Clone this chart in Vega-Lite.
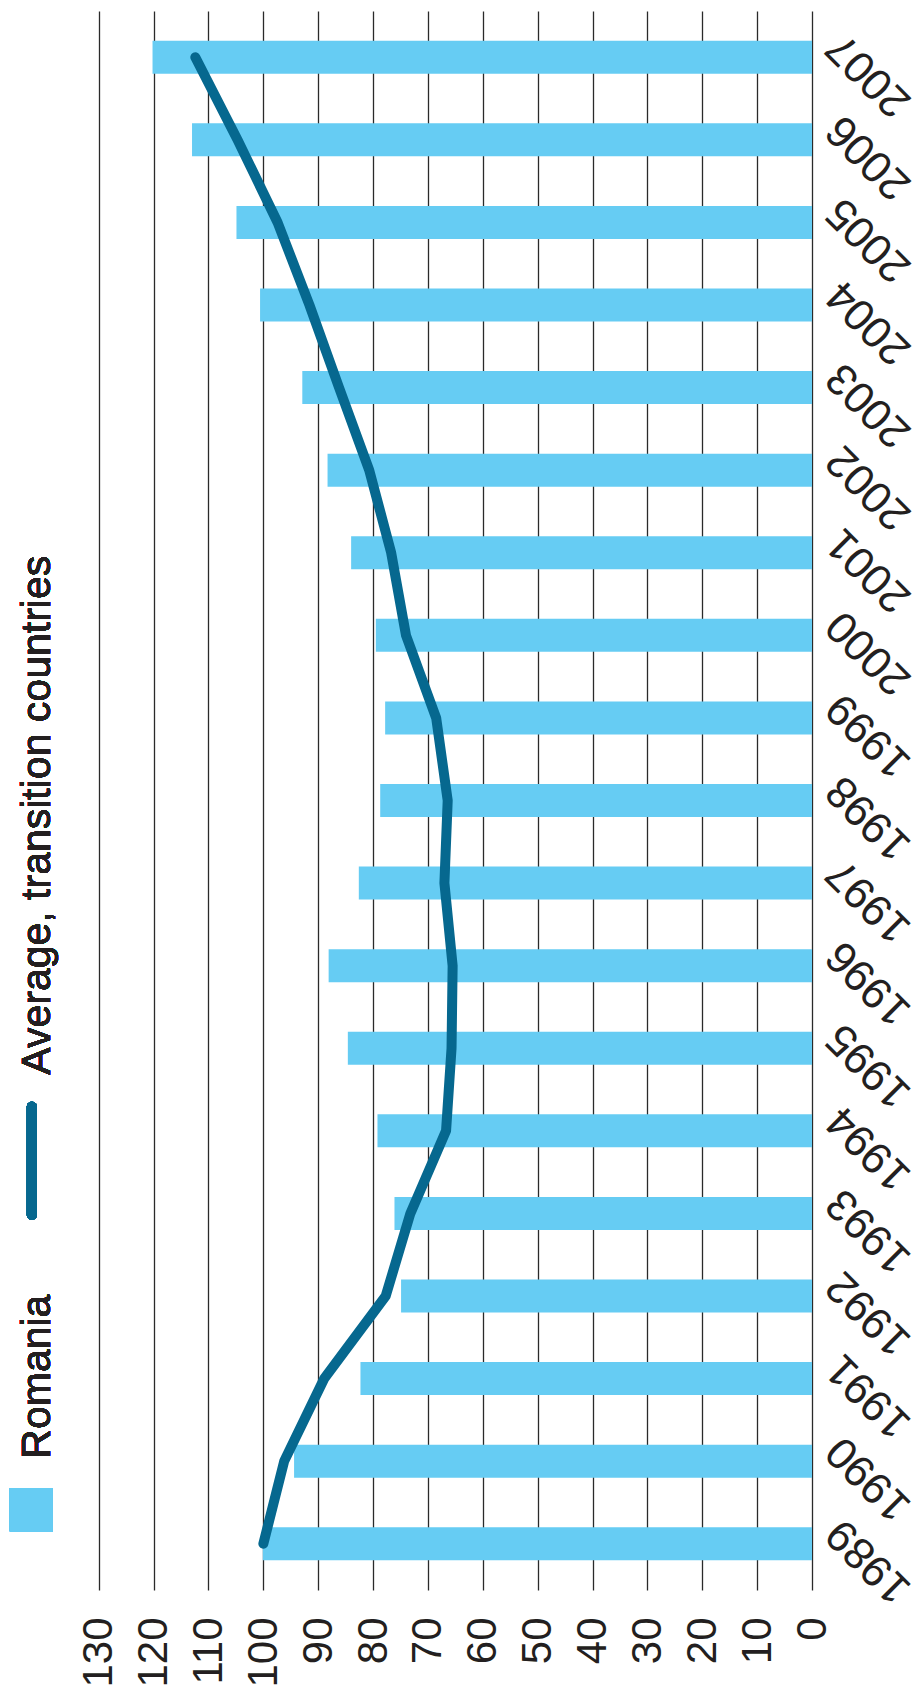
{
  "$schema": "https://vega.github.io/schema/vega-lite/v6.json",
  "autosize": {"type": "none"},
  "width": 812,
  "height": 1579,
  "padding": {"left": 0, "top": 11, "right": 111, "bottom": 114},
  "background": "white",
  "config": {
    "view": {"stroke": null},
    "font": "Liberation Sans, Arial, sans-serif",
    "axis": {"labelFont": "Liberation Sans, Arial, sans-serif", "labelFontSize": 42, "labelColor": "#231f20", "domain": false, "ticks": false, "title": null, "labelOverlap": false},
    "axisX": {"grid": true, "gridColor": "#2a2a2a", "gridWidth": 1.3, "gridOpacity": 1, "labelAngle": -90, "labelAlign": "right", "labelBaseline": "middle", "labelPadding": 27},
    "axisY": {"grid": false, "labelAngle": 225, "labelAlign": "right", "labelBaseline": "middle", "labelPadding": 22, "labelOffset": -18, "labelFontSize": 44}
  },
  "data": {"values": [
    {"year": 1989, "romania": 100.1, "average": 100.0},
    {"year": 1990, "romania": 94.4, "average": 96.2},
    {"year": 1991, "romania": 82.3, "average": 88.9},
    {"year": 1992, "romania": 74.9, "average": 77.7},
    {"year": 1993, "romania": 76.1, "average": 73.2},
    {"year": 1994, "romania": 79.2, "average": 66.7},
    {"year": 1995, "romania": 84.6, "average": 65.7},
    {"year": 1996, "romania": 88.1, "average": 65.5},
    {"year": 1997, "romania": 82.6, "average": 67.0},
    {"year": 1998, "romania": 78.7, "average": 66.4},
    {"year": 1999, "romania": 77.8, "average": 68.5},
    {"year": 2000, "romania": 79.5, "average": 74.0},
    {"year": 2001, "romania": 84.0, "average": 76.7},
    {"year": 2002, "romania": 88.3, "average": 80.7},
    {"year": 2003, "romania": 92.9, "average": 86.2},
    {"year": 2004, "romania": 100.6, "average": 91.6},
    {"year": 2005, "romania": 104.9, "average": 97.4},
    {"year": 2006, "romania": 113.0, "average": 104.7},
    {"year": 2007, "romania": 120.2, "average": 112.4}
  ]},
  "layer": [
    {
      "mark": {"type": "bar", "orient": "horizontal", "height": 33, "color": "#66ccf3"},
      "encoding": {
        "x": {"field": "romania", "type": "quantitative", "title": null,
              "scale": {"domain": [0, 148], "reverse": true, "nice": false, "zero": true},
              "axis": {"values": [0, 10, 20, 30, 40, 50, 60, 70, 80, 90, 100, 110, 120, 130], "orient": "bottom"}},
        "y": {"field": "year", "type": "quantitative", "title": null,
              "scale": {"domain": [1988.5, 2007.5], "nice": false, "zero": false},
              "axis": {"orient": "right", "format": "d", "values": [1989, 1990, 1991, 1992, 1993, 1994, 1995, 1996, 1997, 1998, 1999, 2000, 2001, 2002, 2003, 2004, 2005, 2006, 2007]}}
      }
    },
    {
      "mark": {"type": "line", "color": "#06688f", "strokeWidth": 10, "strokeCap": "round", "strokeJoin": "round"},
      "encoding": {
        "x": {"field": "average", "type": "quantitative", "title": null},
        "y": {"field": "year", "type": "quantitative", "title": null},
        "order": {"field": "year", "type": "quantitative"}
      }
    },
    {
      "mark": {"type": "square", "color": "#66ccf3", "filled": true, "opacity": 1, "size": 1849},
      "encoding": {
        "x": {"datum": 142.3, "type": "quantitative", "title": null},
        "y": {"datum": 1989.41, "type": "quantitative", "title": null}
      }
    },
    {
      "mark": {"type": "rule", "color": "#06688f", "strokeWidth": 10, "strokeCap": "round"},
      "encoding": {
        "x": {"datum": 142.2, "type": "quantitative", "title": null},
        "y": {"datum": 1994.29, "type": "quantitative", "title": null},
        "y2": {"datum": 1992.98}
      }
    },
    {
      "mark": {"type": "text", "text": "Romania", "angle": 270, "align": "left", "baseline": "alphabetic", "fontSize": 41, "color": "#231f20"},
      "encoding": {
        "x": {"datum": 138.8, "type": "quantitative", "title": null},
        "y": {"datum": 1990.03, "type": "quantitative", "title": null}
      }
    },
    {
      "mark": {"type": "text", "text": "Average, transition countries", "angle": 270, "align": "left", "baseline": "alphabetic", "fontSize": 41, "color": "#231f20"},
      "encoding": {
        "x": {"datum": 138.8, "type": "quantitative", "title": null},
        "y": {"datum": 1994.68, "type": "quantitative", "title": null}
      }
    }
  ]
}
